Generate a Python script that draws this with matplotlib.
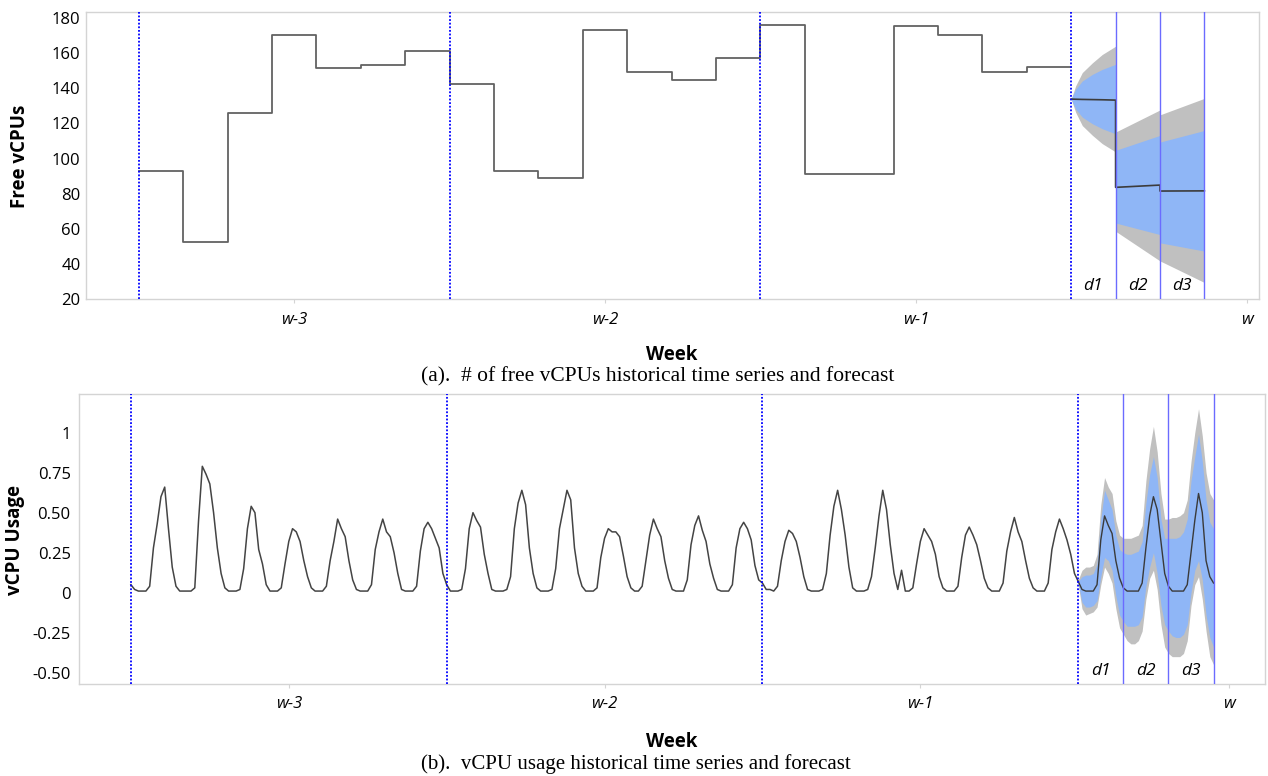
import numpy as np
import matplotlib.pyplot as plt
from matplotlib.transforms import blended_transform_factory

plt.rcParams['font.family'] = ['Open Sans', 'DejaVu Sans']

# ---------- (a) free vCPUs: one value per day, 3 weeks of history ----------
free_w3 = [92.8, 52.2, 125.8, 170.4, 151.4, 153.5, 161.4]
free_w2 = [142.5, 92.8, 88.9, 173.2, 149.5, 144.6, 157.2]
free_w1 = [176.2, 91.1, 91.1, 175.3, 170.2, 149.5, 152.1]

# forecast d1..d3: median, 80% band (blue) and 95% band (grey)
fc1_x = [21.0, 21.1, 21.25, 21.48, 21.7, 22.0]
fc1_med = [133.9, 133.8, 133.7, 133.6, 133.5, 133.3]
fc1_hi95 = [133.9, 141.4, 149.0, 154.6, 159.3, 164.0]
fc1_hi80 = [133.9, 139.5, 144.2, 148.0, 150.8, 153.7]
fc1_lo80 = [133.9, 128.2, 123.6, 119.8, 117.0, 114.1]
fc1_lo95 = [133.9, 126.4, 118.8, 113.2, 108.5, 103.8]

fc2_x = [22.0, 23.0]
fc2_med = [83.6, 84.9]
fc2_hi95 = [115.1, 127.7]
fc2_hi80 = [104.7, 113.2]
fc2_lo80 = [63.3, 56.7]
fc2_lo95 = [58.6, 41.7]

fc3_x = [23.0, 24.0]
fc3_med = [81.5, 81.6]
fc3_hi95 = [124.9, 134.3]
fc3_hi80 = [109.4, 116.0]
fc3_lo80 = [52.0, 47.3]
fc3_lo95 = [41.7, 29.4]

# ---------- (b) vCPU usage: 12 samples per day (every 2 h) ----------
usage_w3 = [
    [0.05, 0.02, 0.01, 0.01, 0.01, 0.04, 0.28, 0.43, 0.60, 0.66, 0.40, 0.16],
    [0.04, 0.01, 0.01, 0.01, 0.01, 0.03, 0.45, 0.79, 0.74, 0.68, 0.50, 0.28],
    [0.12, 0.03, 0.01, 0.01, 0.01, 0.02, 0.15, 0.40, 0.54, 0.50, 0.27, 0.18],
    [0.05, 0.01, 0.01, 0.01, 0.03, 0.18, 0.32, 0.40, 0.38, 0.32, 0.20, 0.10],
    [0.03, 0.01, 0.01, 0.01, 0.04, 0.20, 0.32, 0.46, 0.40, 0.35, 0.20, 0.08],
    [0.02, 0.01, 0.01, 0.01, 0.05, 0.27, 0.38, 0.46, 0.38, 0.35, 0.25, 0.12],
    [0.02, 0.01, 0.01, 0.01, 0.04, 0.26, 0.40, 0.44, 0.40, 0.34, 0.28, 0.12],
]
usage_w2 = [
    [0.05, 0.01, 0.01, 0.01, 0.02, 0.15, 0.40, 0.50, 0.45, 0.41, 0.24, 0.12],
    [0.02, 0.01, 0.01, 0.01, 0.02, 0.10, 0.40, 0.56, 0.64, 0.55, 0.28, 0.12],
    [0.03, 0.01, 0.01, 0.01, 0.02, 0.15, 0.40, 0.52, 0.64, 0.58, 0.28, 0.12],
    [0.04, 0.01, 0.01, 0.01, 0.03, 0.22, 0.34, 0.40, 0.38, 0.38, 0.35, 0.23],
    [0.10, 0.03, 0.01, 0.01, 0.04, 0.20, 0.36, 0.46, 0.40, 0.35, 0.20, 0.09],
    [0.02, 0.01, 0.01, 0.01, 0.08, 0.30, 0.42, 0.48, 0.39, 0.32, 0.18, 0.09],
    [0.02, 0.01, 0.01, 0.01, 0.05, 0.28, 0.40, 0.44, 0.40, 0.33, 0.17, 0.08],
]
usage_w1 = [
    [0.06, 0.02, 0.02, 0.01, 0.04, 0.20, 0.32, 0.39, 0.37, 0.32, 0.22, 0.10],
    [0.02, 0.01, 0.01, 0.01, 0.02, 0.12, 0.36, 0.54, 0.64, 0.52, 0.36, 0.16],
    [0.03, 0.01, 0.01, 0.01, 0.02, 0.10, 0.28, 0.48, 0.64, 0.52, 0.30, 0.12],
    [0.02, 0.14, 0.01, 0.01, 0.03, 0.18, 0.32, 0.40, 0.36, 0.32, 0.24, 0.10],
    [0.03, 0.01, 0.01, 0.01, 0.04, 0.22, 0.36, 0.41, 0.36, 0.30, 0.20, 0.09],
    [0.03, 0.01, 0.01, 0.01, 0.06, 0.26, 0.38, 0.47, 0.38, 0.32, 0.20, 0.09],
    [0.03, 0.01, 0.01, 0.01, 0.06, 0.27, 0.38, 0.46, 0.40, 0.33, 0.24, 0.12],
]

# forecast for d1, d2, d3 (+ end point)
use_med = [0.07, 0.02, 0.01, 0.01, 0.01, 0.05, 0.33, 0.48, 0.42, 0.37, 0.20, 0.09,
           0.03, 0.01, 0.01, 0.01, 0.01, 0.06, 0.28, 0.48, 0.60, 0.52, 0.32, 0.12,
           0.04, 0.01, 0.01, 0.01, 0.01, 0.05, 0.25, 0.45, 0.62, 0.50, 0.20, 0.10, 0.06]
use_hi95 = [0.08, 0.14, 0.16, 0.16, 0.17, 0.24, 0.55, 0.72, 0.66, 0.62, 0.45, 0.36,
            0.34, 0.34, 0.34, 0.35, 0.36, 0.42, 0.70, 0.90, 1.04, 0.88, 0.62, 0.46,
            0.46, 0.47, 0.47, 0.48, 0.50, 0.58, 0.82, 1.00, 1.15, 0.98, 0.75, 0.62, 0.58]
use_hi80 = [0.07, 0.10, 0.11, 0.11, 0.12, 0.18, 0.46, 0.64, 0.58, 0.52, 0.36, 0.27,
            0.25, 0.24, 0.24, 0.25, 0.26, 0.32, 0.56, 0.74, 0.85, 0.72, 0.46, 0.34,
            0.34, 0.34, 0.34, 0.35, 0.38, 0.46, 0.70, 0.85, 0.99, 0.82, 0.58, 0.44, 0.40]
use_lo80 = [0.06, -0.06, -0.09, -0.09, -0.08, -0.05, 0.10, 0.22, 0.20, 0.14, -0.02, -0.14,
            -0.18, -0.21, -0.21, -0.21, -0.20, -0.15, 0.04, 0.16, 0.25, 0.12, -0.08, -0.20,
            -0.24, -0.27, -0.28, -0.28, -0.26, -0.20, 0.00, 0.14, 0.20, 0.08, -0.14, -0.28, -0.34]
use_lo95 = [0.05, -0.10, -0.14, -0.13, -0.12, -0.09, 0.05, 0.16, 0.12, 0.06, -0.10, -0.22,
            -0.26, -0.30, -0.32, -0.32, -0.30, -0.24, -0.04, 0.09, 0.14, 0.02, -0.20, -0.34,
            -0.38, -0.40, -0.40, -0.40, -0.38, -0.30, -0.08, 0.05, 0.10, -0.04, -0.24, -0.40, -0.45]

week_labels = ['w-3', 'w-2', 'w-1', 'w']
day_labels = ['d1', 'd2', 'd3']

GREY_BAND = '#c0c0c0'
BLUE_BAND = '#8fb6f6'
DIV_BLUE = '#0000ff'
DAY_BLUE = '#6b6bff'
SPINE = '#d4d4d4'

fig = plt.figure(figsize=(12.68, 7.76), dpi=100)
W, H = 1268, 776


def make_axes(left, top, right, bottom):
    return fig.add_axes([left / W, 1 - bottom / H, (right - left) / W, (bottom - top) / H])


def style_axes(ax, wpos):
    for s in ax.spines.values():
        s.set_color(SPINE)
        s.set_linewidth(1.0)
    ax.tick_params(axis='y', length=0, pad=4, labelsize=12)
    ax.tick_params(axis='x', length=3, color=SPINE, pad=6, labelsize=12)
    ax.set_xticks(wpos)
    ax.set_xticklabels(week_labels, fontstyle='italic')
    for d in [0, 7, 14, 21]:
        ax.axvline(d, color=DIV_BLUE, ls=(0, (1, 1)), lw=1.3, zorder=4)
    for d in [22, 23, 24]:
        ax.axvline(d, color=DAY_BLUE, lw=1.0, zorder=4)
    tr = blended_transform_factory(ax.transData, ax.transAxes)
    for i, lab in enumerate(day_labels):
        ax.text(21.5 + i, 0.045, lab, transform=tr, ha='center', va='center',
                fontsize=12.5, fontstyle='italic', zorder=5)


# ---------------- top panel ----------------
ax1 = make_axes(86, 12, 1259, 299)
free = free_w3 + free_w2 + free_w1
days = np.arange(len(free) + 1)
ax1.step(days, free + [free[-1]], where='post', color='#626262', lw=1.3, zorder=3)

segs = [(fc1_x, fc1_med, fc1_lo95, fc1_hi95, fc1_lo80, fc1_hi80),
        (fc2_x, fc2_med, fc2_lo95, fc2_hi95, fc2_lo80, fc2_hi80),
        (fc3_x, fc3_med, fc3_lo95, fc3_hi95, fc3_lo80, fc3_hi80)]
med_x, med_y = [], []
for x, med, lo95, hi95, lo80, hi80 in segs:
    ax1.fill_between(x, lo95, hi95, color=GREY_BAND, lw=0, zorder=1)
    ax1.fill_between(x, lo80, hi80, color=BLUE_BAND, lw=0, zorder=2)
    med_x += x
    med_y += med
ax1.plot(med_x, med_y, color='#3c3c3c', lw=1.2, zorder=3)

ax1.set_xlim(-1.19, 25.23)
ax1.set_ylim(20, 183.5)
ax1.set_yticks(np.arange(20, 181, 20))
style_axes(ax1, [3.5, 10.5, 17.5, 24.95])

# ---------------- bottom panel ----------------
ax2 = make_axes(79, 394, 1265, 684)
hist = np.concatenate([np.ravel(usage_w3), np.ravel(usage_w2), np.ravel(usage_w1)])
per_day = len(usage_w3[0])
hist_x = np.arange(len(hist)) / per_day
fc_x = 21 + np.arange(len(use_med)) / per_day

ax2.fill_between(fc_x, use_lo95, use_hi95, color=GREY_BAND, lw=0, zorder=1)
ax2.fill_between(fc_x, use_lo80, use_hi80, color=BLUE_BAND, lw=0, zorder=2)
ax2.plot(np.append(hist_x, fc_x[0]), np.append(hist, use_med[0]),
         color='#444444', lw=1.1, zorder=3)
ax2.plot(fc_x, use_med, color='#3a3a3a', lw=1.0, zorder=3)

ax2.set_xlim(-1.15, 25.14)
ax2.set_ylim(-0.571, 1.242)
ax2.set_yticks([-0.5, -0.25, 0, 0.25, 0.5, 0.75, 1])
ax2.set_yticklabels(['-0.50', '-0.25', '0', '0.25', '0.50', '0.75', '1'])
style_axes(ax2, [3.5, 10.5, 17.5, 24.35])
ax2.tick_params(axis='y', pad=6)

# ---------------- labels and captions ----------------
fig.text(20 / W, 1 - 156 / H, 'Free vCPUs', rotation=90, ha='center', va='center',
         fontsize=13.5, fontweight='bold')
fig.text(15.5 / W, 1 - 540 / H, 'vCPU Usage', rotation=90, ha='center', va='center',
         fontsize=13.5, fontweight='bold')
fig.text(672 / W, 1 - 355 / H, 'Week', ha='center', va='center', fontsize=13.5, fontweight='bold')
fig.text(672 / W, 1 - 742 / H, 'Week', ha='center', va='center', fontsize=13.5, fontweight='bold')
fig.text(658 / W, 1 - 377 / H, '(a).  # of free vCPUs historical time series and forecast',
         ha='center', va='center', fontsize=15.5, family='Liberation Serif')
fig.text(636 / W, 1 - 764 / H, '(b).  vCPU usage historical time series and forecast',
         ha='center', va='center', fontsize=15, family='Liberation Serif')

fig.savefig('out.png', dpi=100)
